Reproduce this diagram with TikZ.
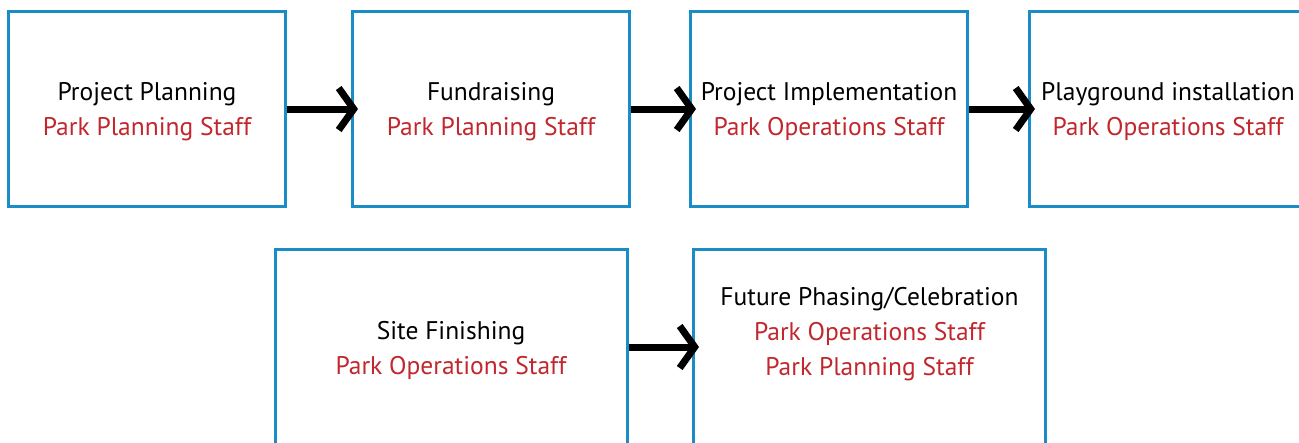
\documentclass[tikz,border=0pt]{standalone}
\usepackage{fontspec}
\setmainfont{PT Sans}
\usetikzlibrary{arrows.meta}
\definecolor{boxblue}{HTML}{1B8DC6}
\definecolor{staffred}{HTML}{C1272D}
\newcommand{\staff}[1]{\textcolor{staffred}{#1}}
\begin{document}
\begin{tikzpicture}[x=1pt,y=-1pt,
	stage/.style={shape=rectangle,draw=boxblue,line width=3pt,minimum width=277pt,minimum height=195pt},
	wide/.style={minimum width=352pt},
	caption/.style={align=center,font=\fontsize{25.5}{35}\selectfont,inner sep=0pt},
	flow/.style={line width=7pt,-{Straight Barb[length=15pt,width=42pt]}}]
		\useasboundingbox (0,0) rectangle (1299,442);
		\begin{scope}
		\clip (0,0) rectangle (1299,442);
		\node[stage] (b1) at (147,109) {};
		\node[stage] (b2) at (491,109) {};
		\node[stage] (b3) at (829,109) {};
		\node[stage] (b4) at (1168,109) {};
		\node[stage,wide] (b5) at (451,347) {};
		\node[stage,wide] (b6) at (869.5,347) {};
		\end{scope}

		\node[caption] (t1) at ([yshift=-3pt]b1.center) {Project Planning\\\staff{Park Planning Staff}};
		\node[caption] (t2) at ([yshift=-3pt]b2.center) {Fundraising\\\staff{Park Planning Staff}};
		\node[caption] (t3) at ([yshift=-3pt]b3.center) {Project Implementation\\\staff{Park Operations Staff}};
		\node[caption] (t4) at ([yshift=-3pt]b4.center) {Playground installation\\\staff{Park Operations Staff}};
		\node[caption] (t5) at ([yshift=-3pt]b5.center) {Site Finishing\\\staff{Park Operations Staff}};
		\node[caption] (t6) at ([yshift=13pt]b6.center) {Future Phasing/Celebration\\\staff{Park Operations Staff}\\\staff{Park Planning Staff}};

		\draw (b1.east) [flow] -- ([xshift=7pt]b2.west);
		\draw (b2.east) [flow] -- ([xshift=7pt]b3.west);
		\draw (b3.east) [flow] -- ([xshift=7pt]b4.west);
		\draw (b5.east) [flow] -- ([xshift=7pt]b6.west);
\end{tikzpicture}
\end{document}
